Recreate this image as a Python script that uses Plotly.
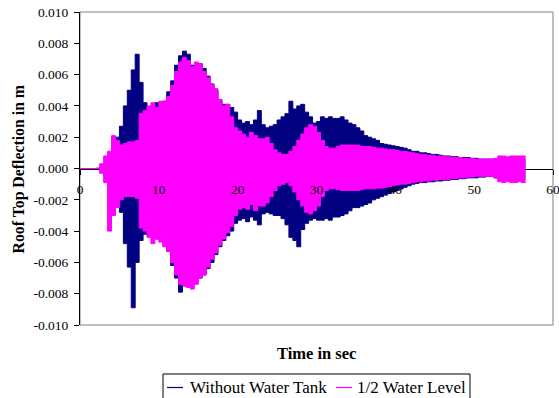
import numpy as np
import plotly.graph_objects as go

# Roof top deflection envelopes (mm), sampled every 0.5 s from t = 0 to 56.5 s.
# Each sample holds the positive and negative response peak within it.
SAMPLE_STEP_S = 0.5

without_tank_pos_mm = [
    0, 0, 0, 0, 0.02, 0.1, 0.3, 0.6, 0.9, 2.0,
    2.7, 4.0, 5.0, 6.3, 7.3, 5.5, 4.2, 3.9, 4.0, 4.2,
    3.8, 4.3, 4.9, 5.6, 6.6, 7.2, 7.5, 7.3, 6.6, 6.5,
    6.7, 6.4, 5.9, 5.4, 5.0, 4.4, 4.1, 4.1, 3.9, 3.6,
    3.1, 2.9, 3.0, 2.8, 3.1, 3.7, 2.8, 2.6, 2.7, 2.8,
    3.1, 3.3, 3.5, 4.3, 3.8, 4.0, 4.1, 3.6, 3.3, 2.9,
    3.0, 3.3, 3.2, 3.3, 3.2, 3.2, 3.3, 3.1, 2.9, 2.8,
    2.6, 2.4, 2.1, 2.0, 1.9, 1.8, 1.6, 1.55, 1.5, 1.45,
    1.4, 1.35, 1.3, 1.2, 1.1, 1.1, 1.0, 1.0, 0.95, 0.9,
    0.9, 0.85, 0.8, 0.8, 0.75, 0.75, 0.7, 0.7, 0.7, 0.65,
    0.65, 0.6, 0.6, 0.6, 0.6, 0.55, 0.6, 0.6, 0.6, 0.6,
    0.6, 0.6, 0.6, 0.6,
]
without_tank_neg_mm = [
    0, 0, 0, 0, -0.02, -0.1, -0.4, -0.8, -1.2, -2.0,
    -2.8, -4.8, -6.3, -8.9, -6.0, -4.6, -4.2, -4.0, -4.2, -4.5,
    -4.3, -4.8, -5.3, -6.2, -7.0, -7.9, -7.5, -7.4, -7.4, -7.2,
    -7.0, -6.8, -6.4, -6.0, -5.5, -5.0, -4.6, -4.3, -4.0, -3.5,
    -3.3, -3.2, -3.4, -3.1, -3.3, -3.6, -2.9, -2.8, -2.9, -3.0,
    -3.0, -3.2, -3.6, -4.4, -4.6, -5.0, -3.9, -3.5, -3.3, -3.2,
    -3.3, -3.3, -3.2, -3.3, -3.1, -3.1, -3.0, -2.9, -2.7, -2.5,
    -2.5, -2.4, -2.3, -2.2, -2.0, -1.9, -1.8, -1.7, -1.6, -1.5,
    -1.4, -1.3, -1.2, -1.1, -1.0, -0.95, -0.9, -0.9, -0.85, -0.85,
    -0.8, -0.8, -0.75, -0.75, -0.7, -0.7, -0.65, -0.65, -0.6, -0.6,
    -0.6, -0.55, -0.55, -0.5, -0.5, -0.6, -0.65, -0.65, -0.65, -0.65,
    -0.65, -0.65, -0.65, -0.65,
]
half_water_pos_mm = [
    0, 0, 0, 0, 0, 0.3, 0.8, 1.1, 2.1, 1.8,
    1.5, 1.6, 1.7, 1.7, 1.8, 3.5, 3.7, 4.0, 4.2, 3.9,
    4.3, 4.3, 4.6, 5.3, 6.2, 6.8, 7.1, 6.9, 6.5, 6.8,
    6.7, 6.2, 5.8, 5.4, 5.1, 4.4, 4.0, 4.1, 3.3, 2.6,
    2.4, 2.2, 2.0, 2.3, 2.1, 1.9, 1.9, 2.0, 1.6, 1.2,
    1.0, 0.9, 0.9, 1.1, 1.4, 1.8, 2.2, 2.6, 2.8, 2.7,
    2.3, 1.8, 1.4, 1.3, 1.3, 1.4, 1.5, 1.5, 1.5, 1.5,
    1.5, 1.4, 1.4, 1.4, 1.35, 1.3, 1.3, 1.25, 1.2, 1.2,
    1.15, 1.1, 1.1, 1.05, 1.0, 0.95, 0.9, 0.9, 0.85, 0.85,
    0.8, 0.8, 0.75, 0.75, 0.7, 0.7, 0.7, 0.65, 0.65, 0.65,
    0.6, 0.6, 0.6, 0.6, 0.6, 0.65, 0.8, 0.8, 0.75, 0.8,
    0.8, 0.8, 0.8, 0.75,
]
half_water_neg_mm = [
    0, 0, 0, 0, 0, -0.3, -0.9, -4.0, -3.0, -2.5,
    -2.0, -1.8, -1.8, -1.8, -1.9, -3.8, -4.0, -4.4, -4.8, -4.5,
    -4.7, -5.0, -5.3, -6.0, -6.8, -7.4, -7.5, -7.6, -7.7, -7.4,
    -7.0, -6.8, -6.3, -5.8, -5.4, -4.9, -4.5, -4.1, -3.7, -3.0,
    -2.6, -2.5, -2.6, -2.3, -2.7, -2.4, -2.4, -2.2, -1.8, -1.4,
    -1.1, -1.0, -0.9, -1.1, -1.5, -2.0, -2.4, -2.8, -2.9, -2.7,
    -2.4, -1.8, -1.4, -1.3, -1.3, -1.35, -1.4, -1.4, -1.4, -1.4,
    -1.4, -1.35, -1.3, -1.3, -1.3, -1.25, -1.25, -1.2, -1.15, -1.1,
    -1.05, -1.0, -1.0, -0.95, -0.9, -0.85, -0.85, -0.8, -0.8, -0.75,
    -0.75, -0.7, -0.7, -0.7, -0.65, -0.65, -0.6, -0.6, -0.55, -0.55,
    -0.5, -0.5, -0.5, -0.5, -0.5, -0.6, -0.85, -0.9, -0.85, -0.9,
    -0.9, -0.85, -0.9, -0.85,
]

series_names = ["Without Water Tank", "1/2 Water Level"]
series_colors = ["#000080", "#FF00FF"]

x_tick_values = [0, 10, 20, 30, 40, 50, 60]
x_tick_labels = ["0", "10", "20", "30", "40", "50", "60"]
y_tick_values = [-0.010, -0.008, -0.006, -0.004, -0.002, 0.0,
                 0.002, 0.004, 0.006, 0.008, 0.010]
y_tick_labels = ["-0.010", "-0.008", "-0.006", "-0.004", "-0.002", "0.000",
                 "0.002", "0.004", "0.006", "0.008", "0.010"]

FONT = "Liberation Serif"

fig = go.Figure()
for (pos, neg), name, color in zip(
    [(without_tank_pos_mm, without_tank_neg_mm), (half_water_pos_mm, half_water_neg_mm)],
    series_names, series_colors,
):
    t = np.arange(len(pos)) * SAMPLE_STEP_S
    # negative peaks first, then the positive peaks filled down to them
    fig.add_trace(go.Scatter(x=t, y=np.asarray(neg) / 1000.0, mode="lines",
                             line=dict(color=color, width=1, shape="hv"),
                             showlegend=False, hoverinfo="skip"))
    fig.add_trace(go.Scatter(x=t, y=np.asarray(pos) / 1000.0, mode="lines", name=name,
                             line=dict(color=color, width=1, shape="hv"),
                             fill="tonexty", fillcolor=color, showlegend=False))

common_ticks = dict(range=[0, 60], tickvals=x_tick_values, anchor="free", position=0.5,
                    showgrid=False, zeroline=False, automargin=False)

fig.update_layout(
    width=559, height=398,
    margin=dict(l=80, r=6, t=12, b=73, autoexpand=False),
    paper_bgcolor="white", plot_bgcolor="white",
    font=dict(family=FONT, size=13.5, color="black"),
    showlegend=False,
    # time axis line and tick marks sit beneath the response curves
    xaxis=dict(**common_ticks, showticklabels=False, showline=True, linecolor="black",
               linewidth=1, ticks="outside", ticklen=5, tickcolor="black",
               layer="below traces"),
    # time tick labels are printed over the curves
    xaxis2=dict(**common_ticks, overlaying="x", side="bottom", ticktext=x_tick_labels,
                showline=False, ticks="outside", ticklen=5, tickcolor="rgba(0,0,0,0)",
                layer="above traces", ticklabelstandoff=3, ticklabeloverflow="allow"),
    yaxis=dict(range=[-0.010, 0.010], tickvals=y_tick_values, ticktext=y_tick_labels,
               showline=True, linecolor="black", linewidth=1, ticks="outside",
               ticklen=5, tickcolor="black", showgrid=False, zeroline=False,
               ticklabelstandoff=3, automargin=False),
)
# an empty trace keeps the overlaid label axis active
fig.add_trace(go.Scatter(x=[None], y=[None], xaxis="x2", showlegend=False,
                         hoverinfo="skip"))

# plot-area frame
fig.add_shape(type="rect", xref="paper", yref="paper", x0=0, y0=0, x1=1, y1=1,
              line=dict(color="#808080", width=1), layer="below")

# axis titles
fig.add_annotation(text="<b>Time in sec</b>", xref="paper", yref="paper",
                   x=0.499, y=-0.0895, xanchor="center", yanchor="middle",
                   showarrow=False, font=dict(size=16.5))
fig.add_annotation(text="<b>Roof Top Deflection in m</b>", xref="paper", yref="paper",
                   x=-0.129, y=0.50, xanchor="center", yanchor="middle",
                   textangle=-90, showarrow=False, font=dict(size=15.8))

# legend box
fig.add_shape(type="rect", xref="paper", yref="paper", x0=0.1755, x1=0.8245,
              y0=-0.2396, y1=-0.1565, line=dict(color="black", width=1),
              fillcolor="white")
legend_items = [(0.1839, 0.2178, 0.2273), (0.5412, 0.5751, 0.5814)]
for (lx0, lx1, tx), name, color in zip(legend_items, series_names, series_colors):
    fig.add_shape(type="line", xref="paper", yref="paper", x0=lx0, x1=lx1,
                  y0=-0.1997, y1=-0.1997, line=dict(color=color, width=1.2))
    fig.add_annotation(text=name, xref="paper", yref="paper", x=tx, y=-0.1981,
                       xanchor="left", yanchor="middle", showarrow=False,
                       font=dict(size=17))

fig.write_html("out.html")
